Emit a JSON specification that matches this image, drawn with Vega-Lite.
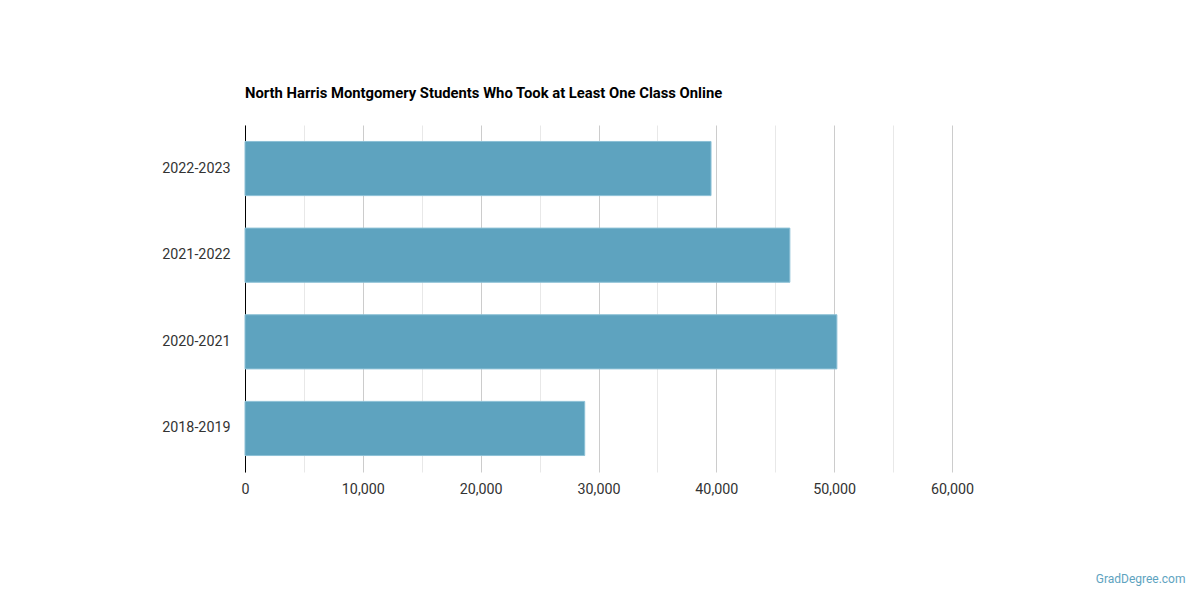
{
  "$schema": "https://vega.github.io/schema/vega-lite/v6.json",
  "autosize": "none",
  "width": 707,
  "height": 347,
  "padding": {"left": 245, "top": 125, "right": 248, "bottom": 128},
  "background": "white",
  "title": {
    "text": "North Harris Montgomery Students Who Took at Least One Class Online",
    "anchor": "start",
    "frame": "group",
    "font": "Roboto",
    "fontSize": 14.8,
    "fontWeight": "bold",
    "color": "#000000",
    "offset": 24
  },
  "data": {
    "values": [
      {"year": "2022-2023", "students": 39550},
      {"year": "2021-2022", "students": 46240},
      {"year": "2020-2021", "students": 50230},
      {"year": "2018-2019", "students": 28830}
    ]
  },
  "mark": {"type": "bar", "color": "#5ea3bf", "stroke": "#8cc0d6", "strokeWidth": 1},
  "encoding": {
    "y": {
      "field": "year",
      "type": "nominal",
      "sort": null,
      "scale": {"paddingInner": 0.375, "paddingOuter": 0.19},
      "axis": {
        "title": null,
        "ticks": false,
        "domain": true,
        "domainColor": "#000000",
        "domainWidth": 1,
        "labelFont": "Roboto",
        "labelFontSize": 14.3,
        "labelColor": "#333333",
        "labelPadding": 15
      }
    },
    "x": {
      "field": "students",
      "type": "quantitative",
      "scale": {"domain": [0, 60000], "nice": false},
      "axis": {
        "values": [0, 5000, 10000, 15000, 20000, 25000, 30000, 35000, 40000, 45000, 50000, 55000, 60000],
        "labelExpr": "datum.value % 10000 === 0 ? format(datum.value, ',') : ''",
        "labelFlush": false,
        "grid": true,
        "gridColor": {"condition": {"test": "datum.value % 10000 === 0", "value": "#cccccc"}, "value": "#e8e8e8"},
        "ticks": false,
        "domain": false,
        "labelFont": "Roboto",
        "labelFontSize": 14.3,
        "labelColor": "#333333",
        "labelPadding": 10,
        "title": "GradDegree.com",
        "titleFont": "Roboto",
        "titleFontSize": 12,
        "titleFontWeight": "normal",
        "titleColor": "#5ea3bf",
        "titleAnchor": "end",
        "titleAlign": "right",
        "titleBaseline": "middle",
        "titleX": 940,
        "titleY": 106
      }
    }
  },
  "config": {"view": {"stroke": null}}
}
